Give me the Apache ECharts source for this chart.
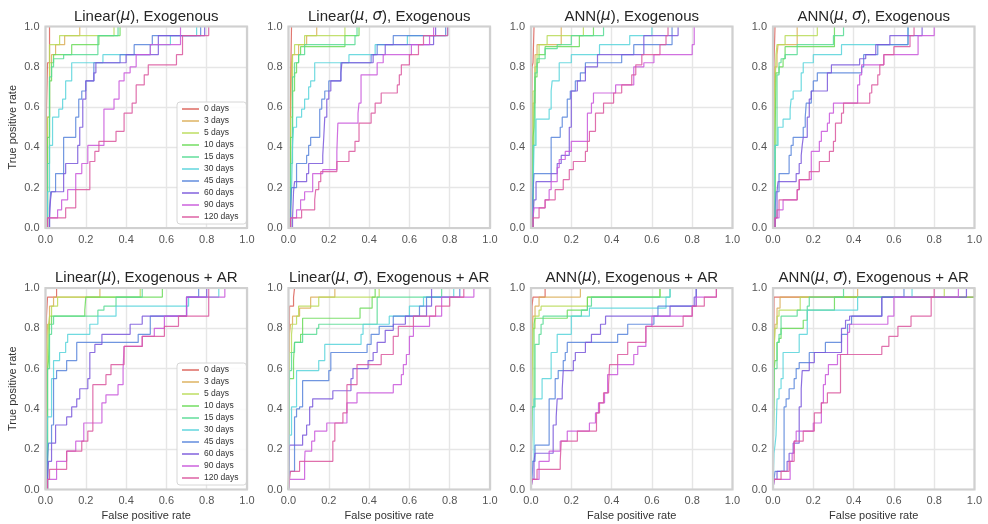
<!DOCTYPE html>
<html><head><meta charset="utf-8">
<script src="https://cdn.jsdelivr.net/npm/echarts@6.0.0/dist/echarts.min.js"></script>
<style>html,body{margin:0;padding:0;background:#fff}#c{width:988px;height:524px}</style>
</head><body><div id="c"></div>
<script>
const horizons = ['0 days','3 days','5 days','10 days','15 days','30 days','45 days','60 days','90 days','120 days'];
const colors = ['#db5f57','#dbae57','#b9db57','#69db57','#57db94','#57d3db','#5784db','#7957db','#c957db','#db579e'];
const tickLabels = ['0.0','0.2','0.4','0.6','0.8','1.0'];
const panelTitles = [
  'Linear({i|μ}), Exogenous', 'Linear({i|μ}, {i|σ}), Exogenous', 'ANN({i|μ}), Exogenous', 'ANN({i|μ}, {i|σ}), Exogenous',
  'Linear({i|μ}), Exogenous + AR', 'Linear({i|μ}, {i|σ}), Exogenous + AR', 'ANN({i|μ}), Exogenous + AR', 'ANN({i|μ}, {i|σ}), Exogenous + AR'
];
const xAxisName = 'False positive rate';
const yAxisName = 'True positive rate';

// Each curve: [false positive rate, true positive rate] at each jump (horizontal move, then vertical jump)
const linMuExo = [
  [[0,0],[0.005,0.59],[0.01,0.82],[0.02,1],[1,1]],
  [[0,0],[0.01,0.55],[0.02,0.82],[0.03,0.86],[0.05,0.91],[0.095,0.955],[0.17,1],[1,1]],
  [[0,0],[0.01,0.55],[0.02,0.91],[0.07,0.955],[0.34,1],[1,1]],
  [[0,0],[0.01,0.45],[0.02,0.73],[0.03,0.82],[0.04,0.86],[0.13,0.91],[0.265,0.955],[0.37,1],[1,1]],
  [[0,0],[0.01,0.32],[0.02,0.75],[0.03,0.8],[0.04,0.84],[0.09,0.86],[0.26,0.955],[0.36,1],[1,1]],
  [[0,0],[0.01,0.18],[0.02,0.41],[0.035,0.55],[0.066,0.59],[0.085,0.64],[0.1,0.73],[0.13,0.82],[0.285,0.86],[0.52,0.91],[0.62,0.955],[0.75,1],[1,1]],
  [[0,0],[0.02,0.1],[0.025,0.18],[0.05,0.27],[0.09,0.45],[0.15,0.55],[0.165,0.64],[0.18,0.68],[0.2,0.73],[0.24,0.82],[0.37,0.86],[0.44,0.91],[0.53,0.955],[0.77,1],[1,1]],
  [[0,0],[0.02,0.05],[0.025,0.14],[0.03,0.18],[0.09,0.27],[0.1,0.32],[0.16,0.41],[0.17,0.5],[0.185,0.64],[0.2,0.73],[0.24,0.77],[0.25,0.82],[0.4,0.86],[0.56,0.955],[0.79,1],[1,1]],
  [[0,0],[0.01,0.05],[0.06,0.09],[0.08,0.14],[0.11,0.19],[0.15,0.27],[0.18,0.32],[0.21,0.41],[0.29,0.59],[0.34,0.64],[0.365,0.73],[0.39,0.77],[0.42,0.8],[0.45,0.86],[0.52,0.91],[0.67,1],[1,1]],
  [[0,0],[0.01,0.05],[0.1,0.1],[0.15,0.19],[0.22,0.33],[0.245,0.38],[0.265,0.43],[0.35,0.48],[0.39,0.57],[0.43,0.62],[0.45,0.71],[0.49,0.76],[0.51,0.81],[0.65,0.86],[0.68,0.955],[0.81,1],[1,1]]
];
const linMuSigExo = [
  [[0,0],[0.01,0.63],[0.012,0.82],[0.015,1],[1,1]],
  [[0,0],[0.01,0.57],[0.015,0.82],[0.02,0.86],[0.05,0.91],[0.09,0.955],[0.14,1],[1,1]],
  [[0,0],[0.01,0.55],[0.02,0.86],[0.03,0.91],[0.08,0.955],[0.28,1],[1,1]],
  [[0,0],[0.01,0.45],[0.02,0.68],[0.03,0.77],[0.04,0.82],[0.05,0.86],[0.06,0.9],[0.28,0.955],[0.35,1],[1,1]],
  [[0,0],[0.01,0.32],[0.02,0.75],[0.03,0.82],[0.05,0.86],[0.08,0.91],[0.33,0.955],[0.34,1],[1,1]],
  [[0,0],[0.01,0.09],[0.015,0.18],[0.02,0.41],[0.025,0.5],[0.04,0.55],[0.065,0.59],[0.08,0.64],[0.1,0.7],[0.11,0.73],[0.13,0.82],[0.3,0.86],[0.43,0.91],[0.59,0.955],[0.79,1],[1,1]],
  [[0,0],[0.01,0.09],[0.015,0.2],[0.04,0.32],[0.09,0.36],[0.1,0.41],[0.11,0.45],[0.155,0.59],[0.165,0.64],[0.18,0.68],[0.2,0.73],[0.26,0.82],[0.41,0.86],[0.44,0.91],[0.52,0.955],[0.78,1],[1,1]],
  [[0,0],[0.02,0.05],[0.025,0.18],[0.03,0.23],[0.09,0.27],[0.1,0.32],[0.17,0.36],[0.175,0.45],[0.18,0.55],[0.19,0.64],[0.2,0.68],[0.21,0.73],[0.26,0.77],[0.265,0.82],[0.42,0.86],[0.48,0.91],[0.72,0.955],[0.73,1],[1,1]],
  [[0,0],[0.01,0.05],[0.04,0.09],[0.06,0.14],[0.08,0.18],[0.12,0.27],[0.17,0.29],[0.24,0.38],[0.245,0.52],[0.345,0.57],[0.35,0.62],[0.36,0.76],[0.44,0.82],[0.47,0.86],[0.61,0.91],[0.7,0.955],[0.72,1],[1,1]],
  [[0,0],[0.01,0.05],[0.065,0.09],[0.13,0.14],[0.135,0.19],[0.15,0.23],[0.16,0.28],[0.24,0.33],[0.3,0.38],[0.33,0.43],[0.35,0.52],[0.41,0.57],[0.43,0.62],[0.46,0.67],[0.54,0.71],[0.55,0.76],[0.56,0.81],[0.6,0.86],[0.645,0.91],[0.67,0.955],[0.79,1],[1,1]]
];
const annMuExo = [
  [[0,0],[0.005,0.8],[0.01,0.82],[0.015,1],[1,1]],
  [[0,0],[0.01,0.62],[0.02,0.86],[0.03,0.91],[0.15,1],[1,1]],
  [[0,0],[0.01,0.68],[0.02,0.8],[0.03,0.86],[0.04,0.91],[0.08,0.955],[0.26,1],[1,1]],
  [[0,0],[0.01,0.45],[0.015,0.5],[0.02,0.75],[0.03,0.82],[0.04,0.86],[0.07,0.9],[0.24,0.955],[0.31,1],[1,1]],
  [[0,0],[0.01,0.41],[0.02,0.77],[0.03,0.84],[0.07,0.89],[0.13,0.91],[0.2,0.955],[0.36,1],[1,1]],
  [[0,0],[0.005,0.09],[0.01,0.18],[0.015,0.41],[0.025,0.54],[0.09,0.59],[0.1,0.68],[0.105,0.73],[0.14,0.82],[0.2,0.86],[0.34,0.91],[0.49,0.955],[0.6,1],[1,1]],
  [[0,0],[0.005,0.09],[0.01,0.18],[0.015,0.27],[0.1,0.45],[0.145,0.5],[0.155,0.55],[0.18,0.64],[0.195,0.68],[0.22,0.73],[0.245,0.77],[0.27,0.82],[0.45,0.86],[0.51,0.91],[0.7,1],[1,1]],
  [[0,0],[0.01,0.05],[0.015,0.14],[0.025,0.23],[0.1,0.27],[0.13,0.32],[0.15,0.36],[0.19,0.5],[0.2,0.68],[0.23,0.73],[0.27,0.8],[0.33,0.86],[0.56,0.955],[0.73,1],[1,1]],
  [[0,0],[0.01,0.05],[0.015,0.1],[0.07,0.14],[0.09,0.19],[0.1,0.23],[0.13,0.3],[0.14,0.34],[0.17,0.38],[0.2,0.43],[0.28,0.57],[0.3,0.62],[0.31,0.67],[0.42,0.71],[0.51,0.8],[0.56,0.82],[0.61,0.86],[0.8,0.91],[0.81,1],[1,1]],
  [[0,0],[0.01,0.05],[0.04,0.1],[0.07,0.14],[0.12,0.19],[0.16,0.24],[0.19,0.29],[0.21,0.33],[0.27,0.38],[0.28,0.43],[0.29,0.48],[0.32,0.57],[0.36,0.62],[0.41,0.67],[0.45,0.71],[0.5,0.76],[0.52,0.81],[0.55,0.86],[0.64,0.91],[0.67,0.955],[0.68,1],[1,1]]
];
const annMuSigExo = [
  [[0,0],[0.005,0.82],[0.01,1],[1,1]],
  [[0,0],[0.005,0.62],[0.01,0.8],[0.02,0.86],[0.025,0.91],[0.12,1],[1,1]],
  [[0,0],[0.01,0.68],[0.015,0.86],[0.02,0.91],[0.06,0.955],[0.22,1],[1,1]],
  [[0,0],[0.01,0.45],[0.015,0.77],[0.03,0.8],[0.05,0.84],[0.06,0.9],[0.305,1],[1,1]],
  [[0,0],[0.01,0.41],[0.02,0.76],[0.03,0.82],[0.04,0.84],[0.06,0.86],[0.12,0.91],[0.3,0.955],[0.35,1],[1,1]],
  [[0,0],[0.005,0.18],[0.01,0.41],[0.025,0.5],[0.05,0.54],[0.085,0.59],[0.09,0.64],[0.1,0.68],[0.14,0.77],[0.15,0.82],[0.2,0.86],[0.34,0.91],[0.67,1],[1,1]],
  [[0,0],[0.01,0.09],[0.015,0.18],[0.03,0.27],[0.08,0.36],[0.09,0.41],[0.1,0.45],[0.15,0.5],[0.16,0.55],[0.165,0.62],[0.19,0.68],[0.2,0.73],[0.22,0.77],[0.44,0.8],[0.45,0.86],[0.52,0.91],[0.67,1],[1,1]],
  [[0,0],[0.01,0.05],[0.02,0.18],[0.025,0.23],[0.115,0.27],[0.13,0.32],[0.14,0.36],[0.145,0.41],[0.15,0.45],[0.17,0.55],[0.18,0.64],[0.19,0.68],[0.27,0.77],[0.29,0.81],[0.43,0.84],[0.46,0.86],[0.51,0.91],[0.58,0.955],[0.74,1],[1,1]],
  [[0,0],[0.01,0.05],[0.03,0.09],[0.05,0.14],[0.12,0.19],[0.13,0.24],[0.19,0.38],[0.23,0.43],[0.24,0.48],[0.27,0.52],[0.28,0.57],[0.3,0.62],[0.42,0.71],[0.43,0.76],[0.44,0.81],[0.55,0.86],[0.72,0.955],[0.8,1],[1,1]],
  [[0,0],[0.01,0.05],[0.02,0.09],[0.03,0.14],[0.12,0.19],[0.13,0.24],[0.18,0.28],[0.23,0.33],[0.28,0.38],[0.3,0.43],[0.31,0.52],[0.34,0.57],[0.35,0.62],[0.48,0.67],[0.49,0.71],[0.52,0.76],[0.53,0.81],[0.55,0.86],[0.6,0.9],[0.68,0.955],[0.7,1],[1,1]]
];
const linMuAR = [
  [[0,0],[0.005,0.86],[0.01,0.955],[0.055,1],[1,1]],
  [[0,0],[0.005,0.68],[0.01,0.82],[0.02,0.91],[0.04,0.955],[0.27,1],[1,1]],
  [[0,0],[0.01,0.68],[0.015,0.82],[0.02,0.86],[0.03,0.91],[0.06,0.955],[0.47,1],[1,1]],
  [[0,0],[0.01,0.59],[0.015,0.64],[0.02,0.82],[0.03,0.86],[0.195,0.89],[0.2,0.955],[0.58,1],[1,1]],
  [[0,0],[0.01,0.6],[0.02,0.77],[0.03,0.82],[0.04,0.86],[0.26,0.89],[0.29,0.91],[0.35,0.955],[0.48,1],[1,1]],
  [[0,0],[0.005,0.18],[0.01,0.36],[0.03,0.55],[0.04,0.64],[0.07,0.68],[0.1,0.73],[0.11,0.77],[0.22,0.82],[0.26,0.86],[0.35,0.91],[0.71,0.955],[0.86,1],[1,1]],
  [[0,0],[0.01,0.14],[0.015,0.23],[0.03,0.32],[0.04,0.55],[0.055,0.59],[0.105,0.64],[0.155,0.73],[0.46,0.77],[0.52,0.86],[0.7,0.955],[0.76,1],[1,1]],
  [[0,0],[0.01,0.05],[0.015,0.14],[0.03,0.23],[0.05,0.32],[0.105,0.36],[0.13,0.41],[0.155,0.45],[0.17,0.5],[0.21,0.55],[0.22,0.68],[0.245,0.72],[0.28,0.77],[0.42,0.82],[0.48,0.86],[0.7,0.955],[0.8,1],[1,1]],
  [[0,0],[0.01,0.05],[0.055,0.14],[0.105,0.19],[0.15,0.24],[0.19,0.33],[0.28,0.43],[0.3,0.47],[0.36,0.52],[0.385,0.6],[0.39,0.71],[0.48,0.76],[0.54,0.8],[0.59,0.86],[0.7,0.955],[0.89,1],[1,1]],
  [[0,0],[0.01,0.05],[0.02,0.1],[0.105,0.19],[0.18,0.24],[0.21,0.29],[0.235,0.52],[0.3,0.57],[0.325,0.62],[0.39,0.71],[0.48,0.76],[0.59,0.81],[0.66,0.86],[0.81,1],[1,1]]
];
const linMuSigAR = [
  [[0,0],[0.005,0.91],[0.025,0.955],[0.03,1],[1,1]],
  [[0,0],[0.005,0.77],[0.01,0.82],[0.02,0.86],[0.055,0.9],[0.11,0.955],[0.23,1],[1,1]],
  [[0,0],[0.005,0.68],[0.015,0.77],[0.02,0.82],[0.04,0.86],[0.05,0.91],[0.15,0.955],[0.45,1],[1,1]],
  [[0,0],[0.005,0.55],[0.025,0.64],[0.03,0.73],[0.06,0.77],[0.07,0.85],[0.355,0.9],[0.415,0.955],[0.43,1],[1,1]],
  [[0,0],[0.005,0.59],[0.015,0.68],[0.03,0.73],[0.07,0.77],[0.14,0.8],[0.15,0.82],[0.44,0.955],[0.76,1],[1,1]],
  [[0,0],[0.005,0.27],[0.015,0.41],[0.04,0.59],[0.15,0.64],[0.18,0.72],[0.36,0.77],[0.37,0.82],[0.5,0.86],[0.6,0.91],[0.67,0.955],[0.82,1],[1,1]],
  [[0,0],[0.005,0.09],[0.03,0.36],[0.04,0.4],[0.055,0.41],[0.07,0.54],[0.2,0.59],[0.21,0.68],[0.39,0.72],[0.41,0.77],[0.45,0.81],[0.52,0.86],[0.65,0.91],[0.685,0.955],[0.85,1],[1,1]],
  [[0,0],[0.005,0.22],[0.07,0.27],[0.09,0.32],[0.105,0.41],[0.12,0.45],[0.22,0.49],[0.31,0.55],[0.32,0.6],[0.395,0.64],[0.42,0.68],[0.44,0.73],[0.48,0.79],[0.52,0.82],[0.58,0.86],[0.685,0.91],[0.71,1],[1,1]],
  [[0,0],[0.005,0.05],[0.08,0.14],[0.082,0.19],[0.115,0.24],[0.13,0.29],[0.19,0.33],[0.29,0.43],[0.34,0.48],[0.52,0.52],[0.56,0.57],[0.57,0.62],[0.585,0.67],[0.6,0.76],[0.62,0.81],[0.7,0.86],[0.76,0.955],[0.92,1],[1,1]],
  [[0,0],[0.005,0.05],[0.01,0.09],[0.055,0.14],[0.22,0.24],[0.23,0.33],[0.27,0.38],[0.29,0.52],[0.34,0.62],[0.46,0.67],[0.52,0.76],[0.545,0.81],[0.62,0.86],[0.73,0.91],[0.8,0.955],[0.87,1],[1,1]]
];
const annMuAR = [
  [[0,0],[0.005,0.91],[0.01,0.955],[0.07,1],[1,1]],
  [[0,0],[0.005,0.77],[0.01,0.86],[0.02,0.91],[0.04,0.955],[0.245,1],[1,1]],
  [[0,0],[0.005,0.55],[0.01,0.8],[0.02,0.86],[0.04,0.89],[0.05,0.91],[0.28,0.955],[0.64,1],[1,1]],
  [[0,0],[0.005,0.41],[0.015,0.82],[0.02,0.85],[0.18,0.89],[0.28,0.955],[0.64,1],[1,1]],
  [[0,0],[0.005,0.41],[0.02,0.72],[0.04,0.77],[0.05,0.82],[0.06,0.86],[0.25,0.89],[0.28,0.91],[0.3,0.955],[0.69,1],[1,1]],
  [[0,0],[0.005,0.14],[0.015,0.45],[0.055,0.55],[0.1,0.68],[0.13,0.77],[0.2,0.86],[0.29,0.9],[0.67,0.955],[0.69,1],[1,1]],
  [[0,0],[0.005,0.05],[0.01,0.14],[0.02,0.22],[0.09,0.45],[0.12,0.55],[0.135,0.59],[0.16,0.64],[0.17,0.68],[0.18,0.73],[0.43,0.77],[0.48,0.82],[0.61,0.86],[0.63,0.91],[0.82,1],[1,1]],
  [[0,0],[0.005,0.05],[0.015,0.14],[0.02,0.18],[0.11,0.32],[0.125,0.36],[0.13,0.45],[0.155,0.5],[0.16,0.59],[0.21,0.64],[0.22,0.68],[0.27,0.73],[0.3,0.77],[0.345,0.82],[0.37,0.86],[0.69,0.91],[0.81,0.955],[0.82,1],[1,1]],
  [[0,0],[0.005,0.05],[0.04,0.14],[0.09,0.19],[0.145,0.24],[0.18,0.29],[0.29,0.33],[0.32,0.38],[0.335,0.43],[0.365,0.48],[0.38,0.57],[0.43,0.62],[0.51,0.67],[0.53,0.71],[0.57,0.81],[0.6,0.86],[0.8,0.91],[0.82,0.955],[0.92,1],[1,1]],
  [[0,0],[0.005,0.05],[0.03,0.1],[0.145,0.14],[0.15,0.24],[0.23,0.29],[0.325,0.38],[0.34,0.43],[0.36,0.48],[0.385,0.52],[0.39,0.62],[0.43,0.67],[0.48,0.73],[0.57,0.81],[0.755,0.86],[0.8,0.91],[0.86,0.955],[0.92,1],[1,1]]
];
const annMuSigAR = [
  [[0,0],[0.005,0.955],[1,1]],
  [[0,0],[0.005,0.68],[0.01,0.82],[0.02,0.9],[0.035,0.955],[0.42,1],[1,1]],
  [[0,0],[0.005,0.68],[0.01,0.8],[0.02,0.86],[0.03,0.89],[0.135,0.955],[0.85,1],[1,1]],
  [[0,0],[0.005,0.59],[0.01,0.64],[0.02,0.73],[0.03,0.75],[0.04,0.8],[0.15,0.84],[0.17,0.89],[0.305,0.955],[1,1]],
  [[0,0],[0.005,0.6],[0.02,0.73],[0.03,0.77],[0.04,0.86],[0.12,0.89],[0.17,0.91],[0.18,0.955],[0.35,1],[1,1]],
  [[0,0],[0.005,0.18],[0.01,0.22],[0.015,0.27],[0.02,0.45],[0.03,0.5],[0.04,0.55],[0.05,0.68],[0.13,0.77],[0.17,0.89],[0.42,0.955],[0.69,1],[1,1]],
  [[0,0],[0.005,0.05],[0.01,0.09],[0.055,0.41],[0.065,0.45],[0.08,0.5],[0.105,0.55],[0.115,0.6],[0.13,0.63],[0.18,0.68],[0.26,0.73],[0.34,0.77],[0.37,0.82],[0.39,0.86],[0.54,0.955],[0.65,1],[1,1]],
  [[0,0],[0.005,0.05],[0.02,0.09],[0.07,0.14],[0.08,0.18],[0.1,0.23],[0.13,0.41],[0.14,0.5],[0.145,0.59],[0.18,0.63],[0.205,0.68],[0.34,0.8],[0.36,0.84],[0.38,0.86],[0.54,0.955],[0.96,1],[1,1]],
  [[0,0],[0.005,0.05],[0.085,0.14],[0.095,0.18],[0.105,0.24],[0.115,0.29],[0.2,0.33],[0.24,0.43],[0.25,0.52],[0.26,0.57],[0.275,0.62],[0.32,0.67],[0.37,0.78],[0.38,0.82],[0.57,0.86],[0.6,0.955],[0.92,1],[1,1]],
  [[0,0],[0.005,0.05],[0.04,0.09],[0.08,0.14],[0.105,0.24],[0.15,0.29],[0.205,0.38],[0.24,0.43],[0.27,0.48],[0.335,0.67],[0.54,0.71],[0.575,0.76],[0.62,0.81],[0.685,0.86],[0.785,0.955],[0.8,1],[1,1]]
];

const panels = [linMuExo, linMuSigExo, annMuExo, annMuSigExo, linMuAR, linMuSigAR, annMuAR, annMuSigAR];

// layout
const colLefts = [45.5, 288.5, 531, 773];
const rowTops = [26.5, 288];
const W = 201.5, H = 201.5;
const FONT = '"Liberation Sans", Arial, sans-serif';

const grids = [], xAxes = [], yAxes = [], titles = [], series = [], frames = [];
panels.forEach((curves, p) => {
  const col = p % 4, row = Math.floor(p / 4);
  const left = colLefts[col], top = rowTops[row];
  grids.push({left, top, width: W, height: H, containLabel: false, outerBoundsMode: 'none'});
  xAxes.push({
    type: 'value', gridIndex: p, min: 0, max: 1, interval: 0.2,
    name: row === 1 ? xAxisName : '', nameLocation: 'middle', nameGap: 21,
    nameTextStyle: {fontSize: 11, color: '#333', fontFamily: FONT},
    axisLine: {show: false}, axisTick: {show: false},
    axisLabel: {margin: 6, fontSize: 11, color: '#555', fontFamily: FONT, formatter: v => tickLabels[Math.round(v / 0.2)]},
    splitLine: {show: true, lineStyle: {color: '#e6e6e6', width: 1.4}}
  });
  yAxes.push({
    type: 'value', gridIndex: p, min: 0, max: 1, interval: 0.2,
    name: col === 0 ? yAxisName : '', nameLocation: 'middle', nameGap: 27, nameRotate: 90,
    nameTextStyle: {fontSize: 11, color: '#333', fontFamily: FONT},
    axisLine: {show: false}, axisTick: {show: false},
    axisLabel: {margin: 6, fontSize: 11, color: '#555', fontFamily: FONT, formatter: v => tickLabels[Math.round(v / 0.2)]},
    splitLine: {show: true, lineStyle: {color: '#e6e6e6', width: 1.4}}
  });
  titles.push({
    text: panelTitles[p], left: left + W / 2, top: row === 0 ? 9 : 270, textAlign: 'center', padding: 0,
    textStyle: {fontSize: 15, fontWeight: 'normal', color: '#262626', fontFamily: FONT,
      rich: {i: {fontSize: 15, fontStyle: 'italic', color: '#262626', fontFamily: '"DejaVu Sans", sans-serif'}}}
  });
  frames.push({type: 'rect', silent: true, z: 100,
    shape: {x: left, y: top, width: W, height: H},
    style: {fill: 'rgba(0,0,0,0)', stroke: '#d0d0d0', lineWidth: 2.2}});
  curves.forEach((pts, k) => {
    series.push({
      type: 'line', name: horizons[k], xAxisIndex: p, yAxisIndex: p,
      data: pts, step: 'end', symbol: 'none', showSymbol: false, silent: true,
      color: colors[k],
      lineStyle: {color: colors[k], width: 1.2, opacity: 0.85},
      itemStyle: {color: colors[k]}
    });
  });
});

const legendCommon = {
  orient: 'vertical', data: horizons, selectedMode: false,
  icon: 'rect', itemWidth: 17, itemHeight: 2, itemGap: 2,
  itemStyle: {opacity: 0.7},
  padding: [2, 8, 2, 5],
  backgroundColor: 'rgba(255,255,255,0.85)', borderColor: '#d6d6d6', borderWidth: 1, borderRadius: 3,
  textStyle: {fontSize: 8.5, color: '#333', fontFamily: FONT, lineHeight: 10}
};
const legends = [
  Object.assign({}, legendCommon, {left: 177, top: 102}),
  Object.assign({}, legendCommon, {left: 177, top: 363})
];

const chart = echarts.init(document.getElementById('c'), null, {renderer: 'canvas'});
chart.setOption({
  backgroundColor: '#ffffff',
  animation: false,
  title: titles,
  grid: grids,
  xAxis: xAxes,
  yAxis: yAxes,
  legend: legends,
  graphic: frames,
  series: series
});
</script>
</body></html>
